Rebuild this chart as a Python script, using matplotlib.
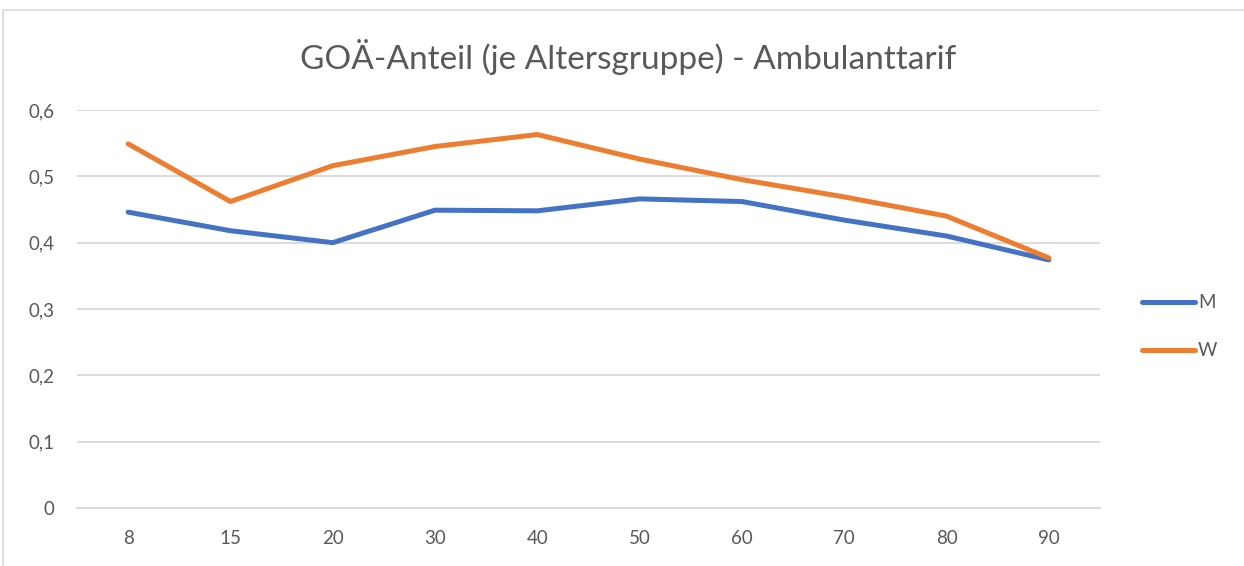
import matplotlib.pyplot as plt
from matplotlib.patches import Rectangle

# data
ages = ['8', '15', '20', '30', '40', '50', '60', '70', '80', '90']
m_vals = [0.446, 0.418, 0.400, 0.449, 0.448, 0.466, 0.462, 0.434, 0.410, 0.374]
w_vals = [0.549, 0.462, 0.516, 0.545, 0.563, 0.526, 0.495, 0.469, 0.440, 0.377]
y_ticks = [0, 0.1, 0.2, 0.3, 0.4, 0.5, 0.6]

plt.rcParams['font.family'] = ['Lato', 'DejaVu Sans']
grey = '#595959'

fig = plt.figure(figsize=(12.44, 5.66), dpi=100)
# outer chart frame (top/left visible in the crop)
fig.patches.append(Rectangle((3/1244, -0.05), 1.2, 1 - 10/566 + 0.05,
                             transform=fig.transFigure, fill=False,
                             edgecolor='#d9d9d9', linewidth=1.2))

ax = fig.add_axes([77/1244, 1 - 508/566, (1100 - 77)/1244, (508 - 110)/566])
x = range(len(ages))
ax.plot(x, m_vals, color='#4472c4', linewidth=3.6, label='M', solid_capstyle='round')
ax.plot(x, w_vals, color='#ed7d31', linewidth=3.6, label='W', solid_capstyle='round')

ax.set_xlim(-0.5, len(ages) - 0.5)
ax.set_ylim(0, 0.6)
ax.set_xticks(list(x))
ax.set_xticklabels(ages)
ax.set_yticks(y_ticks)
ax.set_yticklabels(['0' if v == 0 else f'{v:.1f}'.replace('.', ',') for v in y_ticks])
ax.tick_params(length=0, labelsize=13.5, colors=grey)
ax.tick_params(axis='y', pad=16)
ax.tick_params(axis='x', pad=16)

ax.grid(axis='y', color='#d9d9d9', linewidth=1.3)
ax.set_axisbelow(True)
for s in ['top', 'right', 'left']:
    ax.spines[s].set_visible(False)
ax.spines['bottom'].set_color('#d9d9d9')
ax.spines['bottom'].set_linewidth(1.3)

fig.text(628/1244, 1 - 57/566, 'GOÄ-Anteil (je Altersgruppe) - Ambulanttarif',
         ha='center', va='center', fontsize=24, color=grey)

leg = ax.legend(loc='center left', bbox_to_anchor=(1.025, 0.455), frameon=False,
                fontsize=13.5, handlelength=2.8, handletextpad=0.15,
                labelspacing=1.65, labelcolor=grey)

fig.savefig('out.png', dpi=100)
